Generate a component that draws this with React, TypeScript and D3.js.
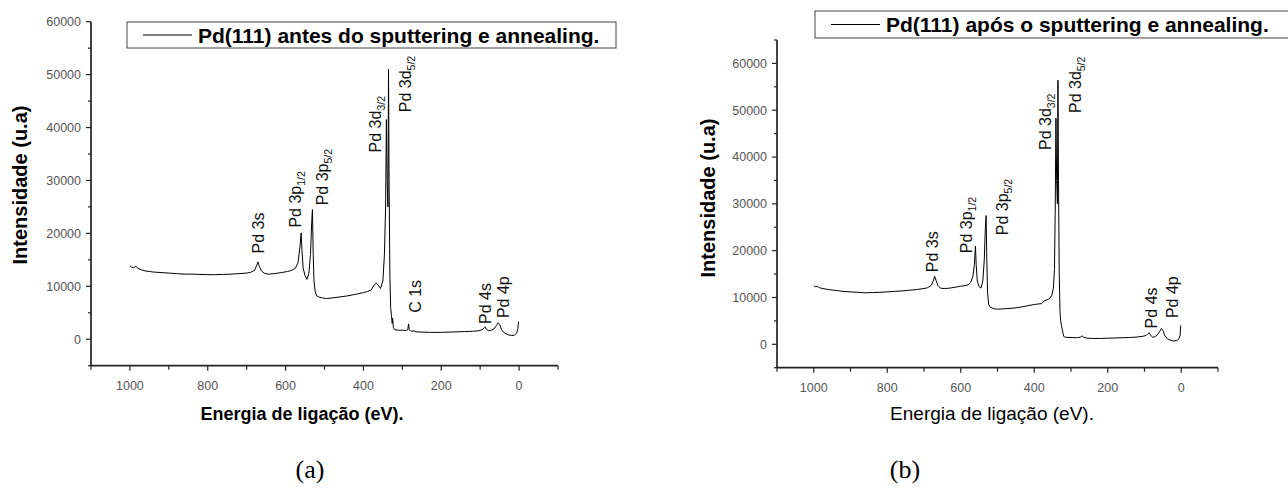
import React from "react";
import * as d3 from "d3";

// ---------- data ----------
const energiesA = [1000, 995, 990, 985, 980, 970, 960, 950, 940, 920, 900, 880, 860, 840, 820, 800, 780, 760, 740, 720, 700, 690, 680, 675, 671, 667, 662, 655, 645, 630, 610, 595, 585, 575, 568, 563, 560, 558, 555, 550, 545, 540, 536, 533, 531, 529, 527, 524, 520, 515, 505, 495, 480, 460, 440, 420, 400, 390, 380, 372, 367, 362, 356, 350, 346, 343, 341, 339, 337, 335.5, 334, 332, 330, 328, 326, 325, 323, 320, 310, 300, 290, 286, 284, 282, 278, 270, 265, 250, 230, 200, 180, 160, 140, 120, 105, 95, 90, 87, 84, 78, 72, 65, 58, 54, 50, 45, 38, 30, 20, 12, 6, 3, 1.5, 1];
const intensA = [13900, 13600, 13500, 13800, 13400, 13100, 12900, 12800, 12700, 12600, 12500, 12400, 12300, 12300, 12250, 12200, 12200, 12250, 12300, 12400, 12500, 12650, 13000, 13800, 14600, 13700, 12900, 12500, 12300, 12400, 12600, 12800, 13000, 13400, 14500, 17500, 20100, 17000, 13500, 12000, 11300, 12500, 16000, 22000, 24500, 16000, 11000, 9000, 8200, 8000, 7800, 7700, 7800, 8000, 8200, 8500, 8800, 9000, 9300, 10300, 10600, 10200, 9600, 11000, 16000, 25000, 41500, 30000, 25000, 51000, 30000, 12000, 6000, 4500, 3000, 4000, 2200, 1800, 1700, 1700, 1650, 1800, 2900, 1800, 1500, 1600, 1400, 1350, 1300, 1300, 1350, 1400, 1450, 1500, 1600, 1800, 2100, 2300, 1900, 1600, 1700, 1900, 2600, 3100, 2800, 1800, 1200, 900, 700, 750, 1200, 2000, 3300, 3300];

const energiesB = [1000, 995, 990, 985, 975, 960, 940, 920, 900, 880, 860, 840, 820, 800, 780, 760, 740, 720, 700, 690, 680, 675, 671, 667, 662, 655, 645, 630, 615, 600, 590, 580, 573, 567, 563, 560, 558, 555, 550, 545, 540, 536, 533, 531, 529, 527, 524, 520, 510, 500, 480, 460, 440, 420, 400, 390, 380, 372, 365, 358, 352, 348, 345, 343, 341, 339, 337, 335.5, 334, 332, 330, 328, 326, 324, 320, 315, 300, 285, 275, 270, 265, 255, 240, 220, 200, 180, 160, 140, 120, 105, 95, 90, 87, 84, 78, 72, 65, 58, 54, 50, 45, 38, 30, 20, 12, 6, 3, 1.5, 1];
const intensB = [12500, 12300, 12400, 12100, 11900, 11700, 11500, 11300, 11200, 11100, 11000, 11050, 11100, 11200, 11300, 11400, 11550, 11700, 11900, 12100, 12600, 13500, 14500, 13600, 12500, 12000, 11900, 12000, 12200, 12400, 12500, 12700, 13200, 14500, 17000, 21000, 17000, 13500, 12300, 12000, 13500, 18000, 25000, 27500, 18000, 11000, 8500, 7900, 7600, 7500, 7600, 7700, 7900, 8200, 8500, 8600, 8700, 9300, 9500, 9800, 10500, 12000, 16000, 28000, 48300, 35000, 30000, 56400, 35000, 15000, 7000, 5000, 4000, 3200, 1700, 1500, 1450, 1400, 1500, 1800, 1500, 1300, 1250, 1250, 1300, 1350, 1400, 1450, 1550, 1700, 1900, 2300, 2500, 2000, 1500, 1600, 2000, 2800, 3400, 3000, 1900, 1200, 900, 700, 800, 1200, 2000, 4000, 4000];

const xMajorTicks = [1000, 800, 600, 400, 200, 0];
const xMinorTicks = [1100, 900, 700, 500, 300, 100, -100];
const yMajorTicksA = [0, 10000, 20000, 30000, 40000, 50000, 60000];
const yMinorTicksA = [-5000, 5000, 15000, 25000, 35000, 45000, 55000];
const yMajorTicksB = [0, 10000, 20000, 30000, 40000, 50000, 60000];
const yMinorTicksB = [-5000, 5000, 15000, 25000, 35000, 45000, 55000, 65000];

type Lab = { main: string; sub?: string; e: number; i: number };
const peakLabelsA: Lab[] = [
  { main: "Pd 3s", e: 671, i: 16200 },
  { main: "Pd 3p", sub: "1/2", e: 576, i: 21100 },
  { main: "Pd 3p", sub: "5/2", e: 506, i: 25300 },
  { main: "Pd 3d", sub: "3/2", e: 370, i: 35300 },
  { main: "Pd 3d", sub: "5/2", e: 293, i: 42900 },
  { main: "C 1s", e: 267, i: 5000 },
  { main: "Pd 4s", e: 87, i: 2900 },
  { main: "Pd 4p", e: 41, i: 4000 },
];
const peakLabelsB: Lab[] = [
  { main: "Pd 3s", e: 678, i: 15400 },
  { main: "Pd 3p", sub: "1/2", e: 586, i: 19450 },
  { main: "Pd 3p", sub: "5/2", e: 488, i: 23300 },
  { main: "Pd 3d", sub: "3/2", e: 371, i: 41500 },
  { main: "Pd 3d", sub: "5/2", e: 289, i: 49400 },
  { main: "Pd 4s", e: 80, i: 3400 },
  { main: "Pd 4p", e: 25, i: 5600 },
];

const FONT = "'Liberation Sans', Arial, Helvetica, sans-serif";

type PanelProps = {
  energies: number[];
  intens: number[];
  x0: number; x1: number;
  yDomain: [number, number];
  yTop: number; yBottom: number;
  yMajor: number[]; yMinor: number[];
  labels: Lab[];
  legendText: string;
  legend: { x: number; y: number; w: number; h: number };
  xTitle: { x: number; y: number; weight: string; size: number };
  yTitle: { x: number; y: number };
  caption: { text: string; x: number; y: number };
};

function Panel(p: PanelProps) {
  const xs = d3.scaleLinear().domain([1100, -100]).range([p.x0, p.x1]);
  const ys = d3.scaleLinear().domain(p.yDomain).range([p.yBottom, p.yTop]);
  const pts = p.energies.map((e, k) => [e, p.intens[k]] as [number, number]);
  const line = d3.line<[number, number]>().x((d) => xs(d[0])).y((d) => ys(d[1]));
  const axisColor = "#222";
  const tickColor = "#555";
  return (
    <g>
      {/* curve */}
      <path d={line(pts) || ""} fill="none" stroke="#000" strokeWidth={1} />
      {/* axes */}
      <line x1={p.x0} x2={p.x0} y1={p.yTop} y2={p.yBottom} stroke={axisColor} strokeWidth={1.7} />
      <line x1={p.x0} x2={p.x1} y1={p.yBottom} y2={p.yBottom} stroke={axisColor} strokeWidth={1.7} />
      {xMajorTicks.map((t) => (
        <g key={"xM" + t}>
          <line x1={xs(t)} x2={xs(t)} y1={p.yBottom} y2={p.yBottom + 5} stroke={axisColor} strokeWidth={1.2} />
          <text x={xs(t)} y={p.yBottom + 24} textAnchor="middle" fontFamily={FONT} fontSize={12.5} fill={tickColor}>{t}</text>
        </g>
      ))}
      {xMinorTicks.map((t) => (
        <line key={"xm" + t} x1={xs(t)} x2={xs(t)} y1={p.yBottom} y2={p.yBottom + 4} stroke={axisColor} strokeWidth={1.2} />
      ))}
      {p.yMajor.map((t) => (
        <g key={"yM" + t}>
          <line x1={p.x0 - 5} x2={p.x0} y1={ys(t)} y2={ys(t)} stroke={axisColor} strokeWidth={1.2} />
          <text x={p.x0 - 10} y={ys(t)} dy="0.35em" textAnchor="end" fontFamily={FONT} fontSize={12.5} fill={tickColor}>{t}</text>
        </g>
      ))}
      {p.yMinor.map((t) => (
        <line key={"ym" + t} x1={p.x0 - 3} x2={p.x0} y1={ys(t)} y2={ys(t)} stroke={axisColor} strokeWidth={1.2} />
      ))}
      {/* peak labels */}
      {p.labels.map((l, k) => (
        <text key={"l" + k} transform={`translate(${xs(l.e)},${ys(l.i)}) rotate(-90)`} dy="0.35em" fontFamily={FONT} fontSize={16} fill="#111">
          {l.main}
          {l.sub ? <tspan dy="4" fontSize={10.5}>{l.sub}</tspan> : null}
        </text>
      ))}
      {/* legend */}
      <rect x={p.legend.x} y={p.legend.y} width={p.legend.w} height={p.legend.h} fill="#fff" stroke="#444" strokeWidth={1} />
      <line x1={p.legend.x + 16} x2={p.legend.x + 65} y1={p.legend.y + p.legend.h / 2} y2={p.legend.y + p.legend.h / 2} stroke="#000" strokeWidth={1} />
      <text x={p.legend.x + 71} y={p.legend.y + p.legend.h / 2} dy="0.36em" fontFamily={FONT} fontWeight="bold" fontSize={21} fill="#000">{p.legendText}</text>
      {/* titles */}
      <text x={p.xTitle.x} y={p.xTitle.y} textAnchor="middle" fontFamily={FONT} fontWeight={p.xTitle.weight} fontSize={p.xTitle.size} fill="#000">Energia de ligação (eV).</text>
      <text transform={`translate(${p.yTitle.x},${p.yTitle.y}) rotate(-90)`} textAnchor="middle" dy="0.35em" fontFamily={FONT} fontWeight="bold" fontSize={20} fill="#000">Intensidade (u.a)</text>
      <text x={p.caption.x} y={p.caption.y} textAnchor="middle" fontFamily="'Liberation Serif', 'DejaVu Serif', serif" fontSize={26} fill="#000">{p.caption.text}</text>
    </g>
  );
}

export default function App() {
  return (
    <svg width={1288} height={500} style={{ position: "absolute", left: 0, top: 0, background: "#fff" }}>
      <rect x={0} y={0} width={1288} height={500} fill="#fff" />
      <Panel
        energies={energiesA}
        intens={intensA}
        x0={91} x1={558}
        yDomain={[-5000, 60000]}
        yTop={21.7} yBottom={365.7}
        yMajor={yMajorTicksA} yMinor={yMinorTicksA}
        labels={peakLabelsA}
        legendText="Pd(111) antes do sputtering e annealing."
        legend={{ x: 127, y: 22, w: 489, h: 26 }}
        xTitle={{ x: 302, y: 420, weight: "bold", size: 18 }}
        yTitle={{ x: 20, y: 185 }}
        caption={{ text: "(a)", x: 310, y: 478 }}
      />
      <Panel
        energies={energiesB}
        intens={intensB}
        x0={777} x1={1218}
        yDomain={[-5000, 65000]}
        yTop={40} yBottom={367.7}
        yMajor={yMajorTicksB} yMinor={yMinorTicksB}
        labels={peakLabelsB}
        legendText="Pd(111) após o sputtering e annealing."
        legend={{ x: 815, y: 11, w: 480, h: 27 }}
        xTitle={{ x: 992, y: 420, weight: "normal", size: 19 }}
        yTitle={{ x: 708, y: 198 }}
        caption={{ text: "(b)", x: 905, y: 478 }}
      />
    </svg>
  );
}
